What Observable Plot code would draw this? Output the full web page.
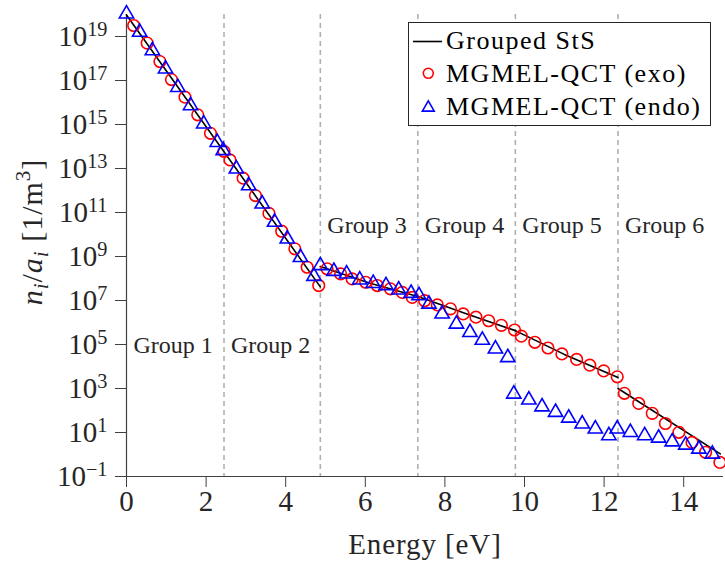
<!DOCTYPE html>
<html>
<head>
<meta charset="utf-8">
<script src="https://cdn.jsdelivr.net/npm/d3@7"></script>
<script src="https://cdn.jsdelivr.net/npm/@observablehq/plot@0.6"></script>
<style>
  body { margin: 0; background: #ffffff; }
  #chart { position: relative; width: 725px; height: 565px; }
</style>
</head>
<body>
<div id="chart"></div>
<script>
// ---------- data ----------
const groupBounds = [2.45, 4.87, 7.32, 9.77, 12.35];
const groupNames = ["Group 1", "Group 2", "Group 3", "Group 4", "Group 5", "Group 6"];
const groupStart = [0, 2.45, 4.87, 7.32, 9.77, 12.35];
const groupLabelY = [8.9e4, 8.9e4, 2.5e10, 2.5e10, 2.5e10, 2.5e10];

// MGMEL-QCT (exo) - red circles
const exoE = [0.18, 0.52, 0.84, 1.13, 1.47, 1.79, 2.11, 2.45,
              2.60, 2.93, 3.24, 3.58, 3.90, 4.23, 4.54, 4.83,
              5.04, 5.38, 5.67, 6.01, 6.30, 6.63, 6.93, 7.18,
              7.49, 7.81, 8.14, 8.46, 8.78, 9.10, 9.42, 9.75,
              9.92, 10.26, 10.59, 10.94, 11.31, 11.64, 11.99, 12.33,
              12.51, 12.87, 13.21, 13.54, 13.88, 14.21, 14.55, 14.91];
const exoN = [3.16e19, 5.01e18, 7.24e17, 1.10e17, 1.74e16, 2.75e15, 3.98e14, 6.03e13,
              2.45e13, 3.63e12, 5.89e11, 9.12e10, 1.41e10, 2.24e9, 3.24e8, 4.79e7,
              2.75e8, 1.62e8, 9.55e7, 6.76e7, 4.79e7, 3.39e7, 2.34e7, 1.38e7,
              9.77e6, 6.31e6, 4.17e6, 2.45e6, 1.74e6, 1.20e6, 7.41e5, 4.57e5,
              2.40e5, 1.26e5, 6.92e4, 3.72e4, 2.09e4, 1.15e4, 6.31e3, 3.39e3,
              603, 209, 74.1, 25.7, 10.2, 3.55, 1.26, 0.436];

// MGMEL-QCT (endo) - blue triangles
const endoE = [0, 0.33, 0.65, 0.98, 1.29, 1.61, 1.94, 2.28,
               2.43, 2.76, 3.07, 3.41, 3.72, 4.04, 4.37, 4.71,
               4.87, 5.21, 5.53, 5.86, 6.20, 6.52, 6.84, 7.15,
               7.35, 7.60, 7.93, 8.29, 8.63, 8.94, 9.27, 9.58,
               9.73, 10.11, 10.44, 10.78, 11.11, 11.45, 11.78, 12.12,
               12.33, 12.66, 13.02, 13.37, 13.71, 14.05, 14.38, 14.72];
const endoN = [1.07e20, 1.58e19, 2.29e18, 3.39e17, 4.90e16, 7.24e15, 1.07e15, 1.55e14,
               6.61e13, 9.55e12, 1.66e12, 2.45e11, 3.63e10, 6.31e9, 9.12e8, 1.26e8,
               3.89e8, 2.14e8, 1.62e8, 8.71e7, 6.03e7, 4.79e7, 3.02e7, 2.14e7,
               1.66e7, 6.92e6, 2.45e6, 8.51e5, 3.55e5, 1.58e5, 6.31e4, 2.57e4,
               562, 302, 148, 83.2, 45.7, 24.5, 14.5, 7.24,
               14.5, 10.2, 7.24, 5.62, 3.80, 2.69, 1.78, 1.05];

// Grouped StS - black line (one run per group)
const stsE = [0, 4.87,
              4.87, 6.10, 7.32,
              7.32, 8.50, 9.77,
              9.77, 11.00, 12.35,
              12.35, 14.92];
const stsN = [9.55e19, 4.17e7,
              3.55e8, 6.31e7, 1.51e7,
              1.51e7, 2.63e6, 4.27e5,
              4.27e5, 3.55e4, 3.16e3,
              1.00e3, 1.07];
const stsRun = [1, 1, 3, 3, 3, 4, 4, 4, 5, 5, 5, 6, 6];

const xTicks = [0, 2, 4, 6, 8, 10, 12, 14];
const yTicks = [1e-1, 1e1, 1e3, 1e5, 1e7, 1e9, 1e11, 1e13, 1e15, 1e17, 1e19];

const legendLabels = ["Grouped StS", "MGMEL-QCT (exo)", "MGMEL-QCT (endo)"];
const xLabel = "Energy [eV]";

// ---------- tables ----------
const exo = exoE.map((e, i) => ({E: e, n: exoN[i]}));
const endo = endoE.map((e, i) => ({E: e, n: endoN[i]}));
const sts = stsE.map((e, i) => ({E: e, n: stsN[i], g: stsRun[i]}));

const FONT = '"Liberation Serif", "Times New Roman", serif';
const INK = "#262626";

const expText = (v) => {
  const p = Math.round(Math.log10(v));
  return "10^" + (p < 0 ? "\u2212" + (-p) : String(p));
};

const plot = Plot.plot({
  width: 725,
  height: 565,
  marginLeft: 126,
  marginRight: 2,
  marginTop: 14,
  marginBottom: 89,
  style: {fontFamily: FONT, background: "#ffffff", color: INK, overflow: "visible"},
  x: {domain: [0, 15]},
  y: {type: "log", domain: [1e-1, 1e20]},
  marks: [
    Plot.ruleX(groupBounds, {stroke: "#b0b0b0", strokeWidth: 1.6, strokeDasharray: "5,4"}),
    Plot.ruleX([0], {stroke: "#404040", strokeWidth: 1.2}),
    Plot.ruleY([1e-1], {stroke: "#404040", strokeWidth: 1.2}),
    Plot.axisX(xTicks, {anchor: "bottom", tickSize: 11, tickPadding: 3, fontSize: 29,
                        label: null, tickFormat: (d) => String(d), stroke: "#404040"}),
    Plot.axisY(yTicks, {anchor: "left", tickSize: 11, tickPadding: 8, fontSize: 29,
                        label: null, tickFormat: expText, stroke: "#404040"}),
    Plot.text(groupNames, {x: groupStart, y: groupLabelY, text: (d) => d, dx: 7,
                           textAnchor: "start", fontSize: 24, fill: INK,
                           style: "letter-spacing:1.3px"}),
    Plot.text([xLabel], {frameAnchor: "bottom", text: (d) => d, dy: 77, fontSize: 29, fill: INK}),
    Plot.line(sts, {x: "E", y: "n", z: "g", stroke: "#000000", strokeWidth: 1.6}),
    Plot.dot(exo, {x: "E", y: "n", r: 5.8, stroke: "#ff0000", strokeWidth: 1.6, fill: "none"}),
    Plot.dot(endo, {x: "E", y: "n", r: 5.3, symbol: "triangle", stroke: "#0000ff",
                    strokeWidth: 1.6, fill: "none"})
  ]
});

const svg = d3.select(plot);

// superscripts for the log tick labels
svg.selectAll("text").each(function () {
  const t = this.textContent;
  const m = /^10\^(.+)$/.exec(t);
  if (m && this.childElementCount === 0) {
    const el = d3.select(this);
    el.text("10");
    el.append("tspan").attr("dy", "-0.48em").attr("font-size", "0.7em").text(m[1]);
  }
});

// letter spacing for axis title
svg.selectAll("text").filter(function () { return this.textContent === xLabel; })
  .style("letter-spacing", "0.9px");

// y axis title: n_i / a_i [1/m^3]
const yl = svg.append("text")
  .attr("transform", "translate(42,232) rotate(-90)")
  .attr("text-anchor", "middle")
  .attr("font-family", FONT)
  .attr("font-size", 30)
  .attr("fill", INK)
  .style("letter-spacing", "1px");
yl.append("tspan").attr("font-style", "italic").text("n");
yl.append("tspan").attr("font-style", "italic").attr("font-size", 21).attr("dy", 6).text("i");
yl.append("tspan").attr("dy", -6).text("/");
yl.append("tspan").attr("font-style", "italic").text("a");
yl.append("tspan").attr("font-style", "italic").attr("font-size", 21).attr("dy", 6).text("i");
yl.append("tspan").attr("dy", -6).text(" [1/m");
yl.append("tspan").attr("font-size", 21).attr("dy", -12).text("3");
yl.append("tspan").attr("dy", 12).text("]");

// legend
const lg = svg.append("g").attr("font-family", FONT).attr("font-size", 26).attr("fill", "#000")
  .attr("text-anchor", "start")
  .style("letter-spacing", "1.5px");
lg.append("rect").attr("x", 408.5).attr("y", 22.5).attr("width", 302).attr("height", 103)
  .attr("fill", "#ffffff").attr("stroke", INK).attr("stroke-width", 1);
lg.append("line").attr("x1", 413).attr("x2", 442).attr("y1", 41.5).attr("y2", 41.5)
  .attr("stroke", "#000").attr("stroke-width", 1.6);
lg.append("text").attr("x", 446).attr("y", 48.6).attr("text-anchor", "start").text(legendLabels[0]);
lg.append("circle").attr("cx", 428.3).attr("cy", 73.3).attr("r", 5)
  .attr("fill", "none").attr("stroke", "#ff0000").attr("stroke-width", 1.6);
lg.append("text").attr("x", 446).attr("y", 81.7).attr("text-anchor", "start").text(legendLabels[1]);
lg.append("path").attr("d", d3.symbol(d3.symbolTriangle, Math.PI * 4.4 * 4.4)())
  .attr("transform", "translate(428.3,107.7)")
  .attr("fill", "none").attr("stroke", "#0000ff").attr("stroke-width", 1.6);
lg.append("text").attr("x", 446).attr("y", 115).attr("text-anchor", "start").text(legendLabels[2]);

document.getElementById("chart").appendChild(plot);
</script>
</body>
</html>
